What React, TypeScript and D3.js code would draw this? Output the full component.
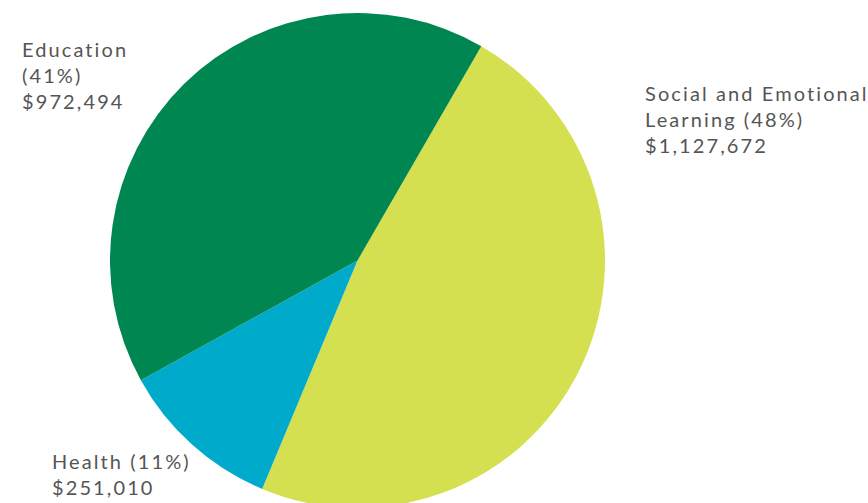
import React from "react";
import * as d3 from "d3";

const categories = ["Social and Emotional Learning", "Health", "Education"];
const values = [1127672, 251010, 972494];
const colors = ["#d4e04f", "#00aacb", "#008751"];
const labelLines = [
  ["Social and Emotional", "Learning (48%)", "$1,127,672"],
  ["Health (11%)", "$251,010"],
  ["Education", "(41%)", "$972,494"],
];

const W = 868;
const H = 503;
const cx = 357.5;
const cy = 260.5;
const R = 247.5;
const labelPos = [
  { x: 645, y: 101 },
  { x: 52, y: 469 },
  { x: 22, y: 57 },
];

export default function App() {
  const data = categories.map((c, i) => ({ c, v: values[i], i }));
  const pie = d3
    .pie<any>()
    .sort(null)
    .value((d) => d.v)
    .startAngle((30 * Math.PI) / 180)
    .endAngle((390 * Math.PI) / 180);
  const arc = d3.arc<any>().innerRadius(0).outerRadius(R);
  const arcs = pie(data);
  return (
    <div style={{ position: "fixed", left: 0, top: 0, width: W, height: H, background: "#fff" }}>
      <svg width={W} height={H} style={{ display: "block" }}>
        <g transform={`translate(${cx},${cy})`}>
          {arcs.map((a, i) => (
            <path key={i} d={arc(a) as string} fill={colors[i]} />
          ))}
        </g>
        {labelLines.map((lines, i) => (
          <text
            key={i}
            x={labelPos[i].x}
            y={labelPos[i].y}
            fill="#555"
            fontFamily="Lato, 'Noto Sans', sans-serif"
            fontSize={20}
            letterSpacing={2.1}
          >
            {lines.map((l, j) => (
              <tspan key={j} x={labelPos[i].x} dy={j === 0 ? 0 : 26}>
                {l}
              </tspan>
            ))}
          </text>
        ))}
      </svg>
    </div>
  );
}
